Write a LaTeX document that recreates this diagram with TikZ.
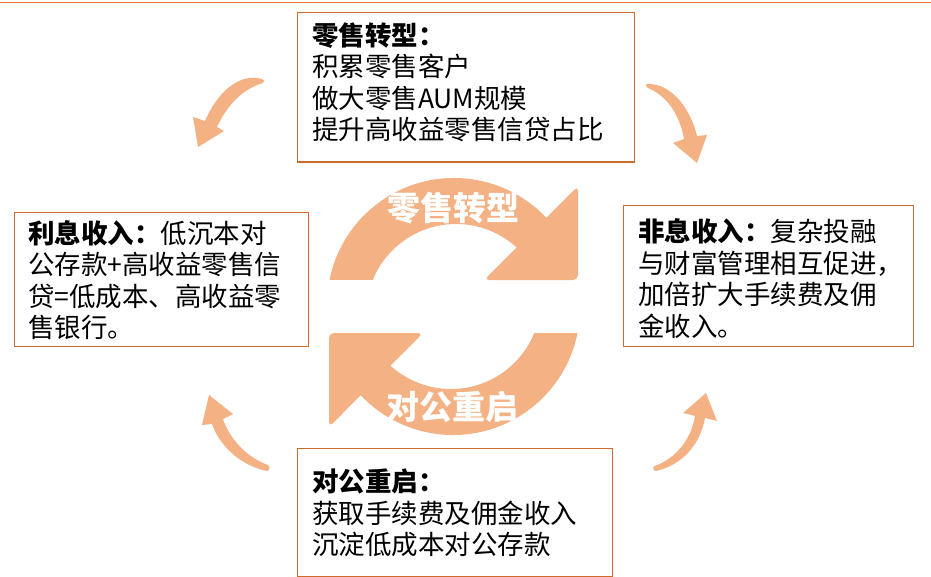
\documentclass[tikz,border=0pt]{standalone}
\usepackage{fontspec}
\setmainfont{Noto Sans CJK SC}
\definecolor{topline}{HTML}{ED7D31}
\definecolor{boxline}{RGB}{207,106,45}
\definecolor{arrowfill}{HTML}{F4B183}
\begin{document}
\begin{tikzpicture}[x=1pt,y=-1pt,
  box/.style={draw=boxline, line width=1.1pt, inner sep=0pt, anchor=north west},
  txt/.style={anchor=north west, inner sep=0pt, align=left, text=black, font=\fontsize{26.5}{31.5}\selectfont},
  bandlabel/.style={text=white, font=\bfseries\fontsize{33}{36}\selectfont, inner sep=0pt},
  arrowshape/.style={fill=arrowfill, draw=none}]
\useasboundingbox (0,0) rectangle (931,577);
\fill[white] (0,0) rectangle (931,577);
\draw[topline, line width=1.6pt] (0,2.7) -- (931,2.7);

% boxes
\node[box, minimum width=337pt, minimum height=149.5pt] (topbox) at (297,12) {};
\node[box, minimum width=294pt, minimum height=134pt] (leftbox) at (13.5,212) {};
\node[box, minimum width=290pt, minimum height=141pt] (rightbox) at (623,205) {};
\node[box, minimum width=315pt, minimum height=128pt] (bottombox) at (297,448) {};

% texts
\node[txt] (ttop) at (312,21) {\rule{0pt}{24pt}\textbf{零售转型：}\\积累零售客户\\做大零售AUM规模\\提升高收益零售信贷占比};
\node[txt] (tleft) at (28,219) {\rule{0pt}{24pt}\textbf{利息收入：}低沉本对\\公存款+高收益零售信\\贷=低成本、高收益零\\售银行。};
\node[txt] (tright) at (638,217.7) {\rule{0pt}{24pt}\textbf{非息收入：}复杂投融\\与财富管理相互促进，\\加倍扩大手续费及佣\\金收入。};
\node[txt] (tbottom) at (312,467.7) {\rule{0pt}{24pt}\textbf{对公重启：}\\获取手续费及佣金收入\\沉淀低成本对公存款};

% central circular arrows
\fill[arrowshape] (329.5,280) arc[start angle=191.35, end angle=316.6, radius=127]
  [rounded corners=5pt] -- (578,186) -- (578,280) -- (484,280) [sharp corners] -- (516.6,247.4)
  arc[start angle=312.3, end angle=202.2, radius=90] -- cycle;
\begin{scope}[rotate around={180:(453.5,306.5)}]
\fill[arrowshape] (329.5,280) arc[start angle=191.35, end angle=316.6, radius=127]
  [rounded corners=5pt] -- (578,186) -- (578,280) -- (484,280) [sharp corners] -- (516.6,247.4)
  arc[start angle=312.3, end angle=202.2, radius=90] -- cycle;
\end{scope}
\node[bandlabel] (lretail) at (453,208) {零售转型};
\node[bandlabel] (lcorp) at (452.5,407) {对公重启};

% curved arrows
\fill[arrowshape] (262,79) .. controls (238,72) and (216,95) .. (205,121) -- (193,117) -- (198,147) -- (224,131) -- (217,127)
  .. controls (228,103) and (245,88) .. (263,83) .. controls (265,82) and (264,79) .. (262,79) -- cycle;
\fill[arrowshape] (647,84) .. controls (672,83) and (691,110) .. (697,136) -- (707,135) -- (697,163) -- (673,143) -- (684,139)
  .. controls (680,116) and (668,97) .. (650,89) .. controls (646,88) and (645,84) .. (647,84) -- cycle;
\fill[arrowshape] (267,471) .. controls (242,466) and (220,447) .. (212,424) -- (202,425) -- (209,395) -- (233,414) -- (223,419)
  .. controls (230,440) and (248,458) .. (268,465) .. controls (270,466) and (270,470) .. (267,471) -- cycle;
\fill[arrowshape] (656,471) .. controls (682,465) and (700,445) .. (705,418) -- (717,421) -- (706,393) -- (683,413) -- (695,416)
  .. controls (691,440) and (676,458) .. (655,466) .. controls (652,467) and (653,471) .. (656,471) -- cycle;
\end{tikzpicture}
\end{document}
